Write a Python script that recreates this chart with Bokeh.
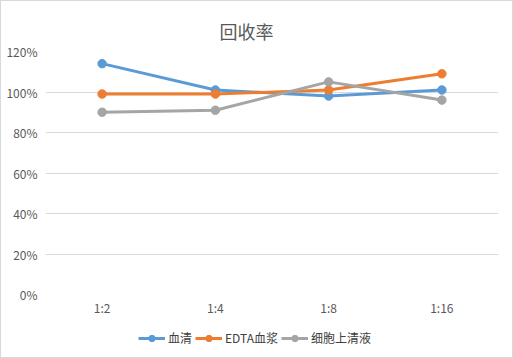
from bokeh.plotting import figure
from bokeh.layouts import column
from bokeh.models import FactorRange, Range1d, Legend, LegendItem, NumeralTickFormatter, FixedTicker
from bokeh.embed import file_html
from bokeh.resources import INLINE

categories = ["1:2", "1:4", "1:8", "1:16"]
serum = [1.14, 1.01, 0.98, 1.01]
edta_plasma = [0.99, 0.99, 1.01, 1.09]
cell_supernatant = [0.90, 0.91, 1.05, 0.96]
series_names = ["血清", "EDTA血浆", "细胞上清液"]
colors = ["#5b9bd5", "#ed7d31", "#a5a5a5"]
y_ticks = [0, 0.2, 0.4, 0.6, 0.8, 1.0, 1.2]

FONT = "Noto Sans CJK SC"
TXT = "#595959"

p = figure(width=511, height=322, x_range=FactorRange(*categories), y_range=Range1d(0, 1.2),
           output_backend="svg", toolbar_location=None,
           title="回收率",
           min_border_left=44, min_border_right=14, min_border_top=50, min_border_bottom=29)

p.title.align = "left"
p.title.offset = 174
p.title.standoff = 16
p.title.text_font = FONT
p.title.text_font_size = "18px"
p.title.text_font_style = "normal"
p.title.text_color = TXT

p.outline_line_color = None
p.xgrid.grid_line_color = None
p.ygrid.grid_line_color = "#d9d9d9"
p.ygrid.grid_line_width = 1

p.yaxis.ticker = FixedTicker(ticks=y_ticks)
p.yaxis.formatter = NumeralTickFormatter(format="0%")
for ax in (p.xaxis[0], p.yaxis[0]):
    ax.axis_line_color = None
    ax.major_tick_line_color = None
    ax.minor_tick_line_color = None
    ax.major_tick_out = 0
    ax.major_tick_in = 0
    ax.minor_tick_out = 0
    ax.major_label_text_font = FONT
    ax.major_label_text_font_size = "12px"
    ax.major_label_text_color = TXT
p.yaxis.major_label_standoff = 8
p.xaxis.major_label_standoff = 4

all_series = [serum, edta_plasma, cell_supernatant]
for name, vals, c in zip(series_names, all_series, colors):
    p.line(categories, vals, line_color=c, line_width=3)
    p.scatter(categories, vals, size=8.5, fill_color=c, line_color=c)

# legend strip: same series drawn into a frame whose y range excludes them,
# so only the legend glyphs are visible
lg = figure(width=511, height=34, x_range=FactorRange(*categories), y_range=Range1d(-2, -1),
            output_backend="svg", toolbar_location=None,
            min_border_left=0, min_border_right=0, min_border_top=0, min_border_bottom=0)
lg.xaxis.visible = False
lg.yaxis.visible = False
lg.grid.visible = False
lg.outline_line_color = None

items = []
for name, vals, c in zip(series_names, all_series, colors):
    l = lg.line(categories, vals, line_color=c, line_width=3)
    s = lg.scatter(categories, vals, size=8.5, fill_color=c, line_color=c)
    items.append(LegendItem(label=name, renderers=[l, s]))

legend = Legend(items=items, orientation="horizontal", location=(93, 11),
                label_text_font=FONT, label_text_font_size="12px", label_text_color="#404040",
                glyph_width=27, glyph_height=16, label_standoff=3, spacing=3, border_line_color=None,
                background_fill_alpha=0, padding=2, margin=0)
lg.add_layout(legend)

layout = column(p, lg, spacing=0)
layout.styles = {"border": "1px solid #d9d9d9"}

open("out.html", "w").write(file_html(layout, INLINE))
